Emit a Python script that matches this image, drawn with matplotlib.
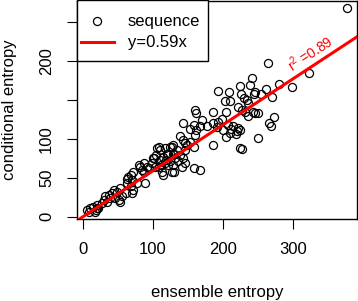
import matplotlib
matplotlib.use("Agg")
import matplotlib.pyplot as plt
from matplotlib.patches import Rectangle

plt.rcParams['font.family'] = ['Liberation Sans', 'DejaVu Sans']

# ensemble entropy (x) vs conditional entropy (y)
ens = [377, 265, 323, 299, 280, 241, 262, 246, 270, 255, 273, 266, 268, 250, 227,
       224, 236, 243, 250, 225, 238, 193, 208, 226, 230, 234, 236, 244, 203, 210,
       205, 160, 162, 186, 170, 198, 143, 158, 153, 167, 177, 186, 193, 191, 207,
       212, 218, 222, 210, 215, 220, 204, 222, 227, 231, 246, 186, 146, 139, 158,
       224, 110, 117, 124, 129, 105, 100, 98, 103, 110, 115, 122, 129, 134, 139,
       131, 124, 117, 112, 129, 136, 143, 146, 148, 153, 143, 160, 162, 158, 167,
       115, 127, 141, 146, 200,
       6, 10, 15, 20, 18, 22, 27, 30, 32, 37, 39, 34, 41, 44, 49, 53, 46, 51, 53,
       56, 61, 63, 65, 68, 63, 70, 68, 72, 70, 77, 80, 82, 84, 87, 89, 87, 94, 101,
       106, 108, 120, 127, 130, 118, 108, 113, 122, 130, 8, 17, 20, 72, 91]
cond = [268, 197, 185, 167, 171, 178, 164, 160, 154, 157, 128, 120, 116, 101, 87,
        111, 129, 135, 133, 168, 169, 161, 160, 158, 152, 150, 146, 158, 148, 148,
        135, 137, 133, 135, 124, 126, 120, 118, 113, 116, 116, 120, 122, 115, 118,
        112, 106, 114, 108, 116, 110, 102, 141, 137, 135, 133, 92, 94, 103, 90,
        88, 86, 88, 90, 92, 79, 75, 69, 64, 73, 77, 81, 81, 86, 79,
        75, 71, 69, 66, 66, 71, 75, 86, 92, 96, 99, 105, 111, 62, 60,
        54, 58, 64, 69, 111,
        9, 11, 13, 15, 9, 11, 17, 21, 26, 28, 24, 19, 30, 34, 32, 37, 24, 21, 19,
        26, 30, 43, 51, 54, 49, 47, 39, 34, 30, 43, 66, 64, 60, 58, 43, 69, 62, 75,
        88, 90, 81, 90, 81, 73, 64, 58, 66, 58, 6, 6, 11, 58, 64]
slope = 0.59
r2 = 0.89

xticks = [0, 100, 200, 300]
yticks = [0, 50, 100, 150, 200, 250]
ylabels = ['0', '50', '100', '', '200', '']
legend_labels = ['sequence', 'y=%.2fx' % slope]

fig = plt.figure(figsize=(3.58, 3.01), dpi=100)
ax = fig.add_axes([0.215, 0.2724, 0.782, 0.7243])

ax.plot(ens, cond, 'o', mfc='none', mec='black', ms=5.8, mew=0.9, zorder=2)
ax.axline((0, 0), slope=slope, color='red', lw=2.2, zorder=3)
ax.text(301, 182, r'$\mathregular{r^2}$ =%.2f' % r2, color='red', fontsize=10,
        rotation=33.3, rotation_mode='anchor', ha='left', va='bottom')

ax.set_xlim(-8.6, 391.4)
ax.set_ylim(-3, 277)
ax.set_xticks(xticks)
ax.set_xticklabels([str(t) for t in xticks])
ax.set_yticks(yticks)
ax.set_yticklabels(ylabels, rotation=90, va='center')
ax.tick_params(direction='out', length=7.5, width=0.8, labelsize=12, pad=9)
for s in ax.spines.values():
    s.set_linewidth(1.0)

ax.set_xlabel('ensemble entropy', fontsize=12, labelpad=20)
ax.set_ylabel('conditional entropy', fontsize=12, labelpad=16)

# legend box drawn by hand, R style
tr = ax.transAxes
ax.add_patch(Rectangle((0, 0.725), 0.468, 0.28, transform=tr, fill=True,
                       fc='white', ec='black', lw=1.0, zorder=5, clip_on=False))
ax.plot([0.071], [0.908], 'o', mfc='none', mec='black', ms=5.8, mew=0.9,
        transform=tr, zorder=6, clip_on=False)
ax.plot([0.014, 0.132], [0.812, 0.812], color='red', lw=2.2,
        transform=tr, zorder=6, clip_on=False)
ax.text(0.182, 0.905, legend_labels[0], transform=tr, fontsize=12,
        va='center', ha='left', zorder=7)
ax.text(0.182, 0.809, legend_labels[1], transform=tr, fontsize=12,
        va='center', ha='left', zorder=7)

fig.savefig('out.png', dpi=100)
